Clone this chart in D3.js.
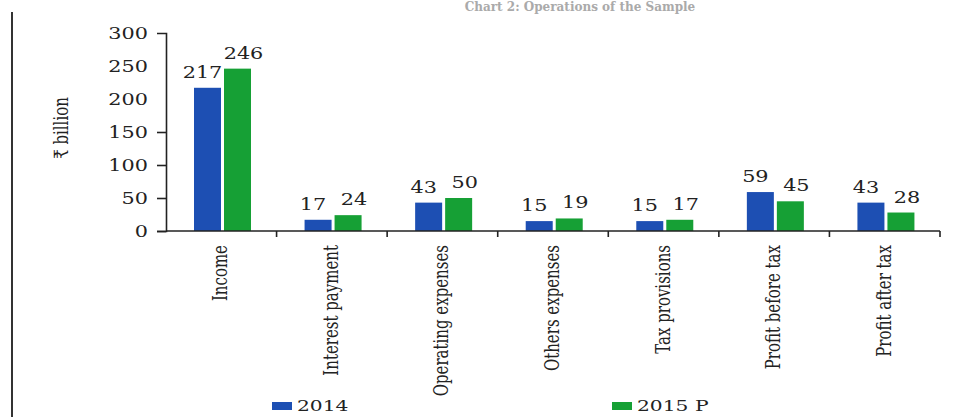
<!DOCTYPE html>
<html>
<head>
<meta charset="utf-8">
<script src="https://cdn.jsdelivr.net/npm/d3@7"></script>
<style>
  body { margin: 0; background: #fff; }
  text { font-family: "DejaVu Serif", serif; fill: #222; }
</style>
</head>
<body>
<div id="chart"></div>
<script>
// data
var categories = ["Income", "Interest payment", "Operating expenses", "Others expenses",
                  "Tax provisions", "Profit before tax", "Profit after tax"]
var series = ["2014", "2015 P"]
var values2014 = [217, 17, 43, 15, 15, 59, 43]
var values2015 = [246, 24, 50, 19, 17, 45, 28]
var yTicks = [0, 50, 100, 150, 200, 250, 300]

var colors = {"2014": "#1d4fb3", "2015 P": "#16a035"}
var W = 970, H = 417

var svg = d3.select("#chart").append("svg")
  .attr("width", W).attr("height", H)

// frame line on the left
svg.append("line")
  .attr("x1", 12).attr("x2", 12).attr("y1", 12).attr("y2", H)
  .attr("stroke", "#333").attr("stroke-width", 2)

// title, mostly cut off at the top in the picture
svg.append("text")
  .attr("x", 580).attr("y", 11)
  .attr("text-anchor", "middle")
  .style("font-size", "12px").style("font-weight", "bold")
  .style("fill", "#aaa")
  .text("Chart 2: Operations of the Sample")

var x = d3.scaleBand().domain(categories).range([166, 940])
var x1 = d3.scaleBand().domain(series).range([28, 85]).paddingInner(0.1)
var y = d3.scaleLinear().domain([0, 300]).range([231, 33])

var rows = categories.map(function(c, i) {
  return {cat: c, vals: [{s: "2014", v: values2014[i]}, {s: "2015 P", v: values2015[i]}]}
})

// bars
var groups = svg.append("g").selectAll("g")
  .data(rows).enter().append("g")
  .attr("transform", function(d) { return "translate(" + x(d.cat) + ",0)" })

groups.selectAll("rect")
  .data(function(d) { return d.vals }).enter()
  .append("rect")
    .attr("x", function(d) { return x1(d.s) })
    .attr("y", function(d) { return y(d.v) })
    .attr("width", x1.bandwidth())
    .attr("height", function(d) { return y(0) - y(d.v) })
    .attr("fill", function(d) { return colors[d.s] })

// value labels (stretched sideways like the picture)
groups.selectAll("text.val")
  .data(function(d) { return d.vals }).enter()
  .append("text")
    .attr("class", "val")
    .attr("text-anchor", "middle")
    .style("font-size", "16px")
    .attr("transform", function(d) {
      var cx = x1(d.s) + x1.bandwidth() / 2 + (d.s == "2014" ? -5 : 6)
      return "translate(" + cx + "," + (y(d.v) - 10) + ") scale(1.3,1)"
    })
    .text(function(d) { return d.v })

// y axis
var yAxis = svg.append("g")
  .attr("transform", "translate(166,0)")
  .call(d3.axisLeft(y).tickValues(yTicks).tickSize(9).tickFormat(""))
yAxis.select(".domain").attr("stroke", "#222").attr("stroke-width", 1.6)
yAxis.selectAll(".tick line")
  .attr("stroke", "#222").attr("stroke-width", 1.6)
  .style("display", function(d) { return d > 150 ? "none" : null })

svg.append("g").selectAll("text")
  .data(yTicks).enter().append("text")
    .attr("text-anchor", "end")
    .style("font-size", "16px")
    .attr("transform", function(d) { return "translate(148," + (y(d) + 6) + ") scale(1.3,1)" })
    .text(function(d) { return d })

// x axis with ticks between categories
var xAxis = svg.append("g")
  .attr("transform", "translate(0," + y(0) + ")")
xAxis.append("line")
  .attr("x1", x.range()[0]).attr("x2", x.range()[1])
  .attr("stroke", "#222").attr("stroke-width", 1.6)
xAxis.selectAll("line.tk")
  .data(categories.slice(1).concat(["end"])).enter()
  .append("line")
    .attr("class", "tk")
    .attr("x1", function(d, i) { return x.range()[0] + x.bandwidth() * (i + 1) })
    .attr("x2", function(d, i) { return x.range()[0] + x.bandwidth() * (i + 1) })
    .attr("y1", 0).attr("y2", 6)
    .attr("stroke", "#222").attr("stroke-width", 1.6)

svg.append("g").selectAll("text")
  .data(categories).enter().append("text")
    .attr("text-anchor", "end")
    .style("font-size", "15px")
    .attr("transform", function(d) {
      return "translate(" + (x(d) + x.bandwidth() / 2 + 6) + ",245) scale(1.35,1) rotate(-90)"
    })
    .text(function(d) { return d })

// y axis label
svg.append("text")
  .attr("text-anchor", "middle")
  .style("font-size", "15px")
  .attr("transform", "translate(68,128) scale(1.3,1) rotate(-90)")
  .text("₹ billion")

// legend
var legendX = {"2014": 272, "2015 P": 612}
var leg = svg.append("g").selectAll("g")
  .data(series).enter().append("g")
  .attr("transform", function(d) { return "translate(" + legendX[d] + ",402)" })
leg.append("rect")
  .attr("width", 20).attr("height", 8)
  .attr("fill", function(d) { return colors[d] })
leg.append("text")
  .style("font-size", "15px")
  .attr("transform", "translate(25,9) scale(1.35,1)")
  .text(function(d) { return d })
</script>
</body>
</html>
